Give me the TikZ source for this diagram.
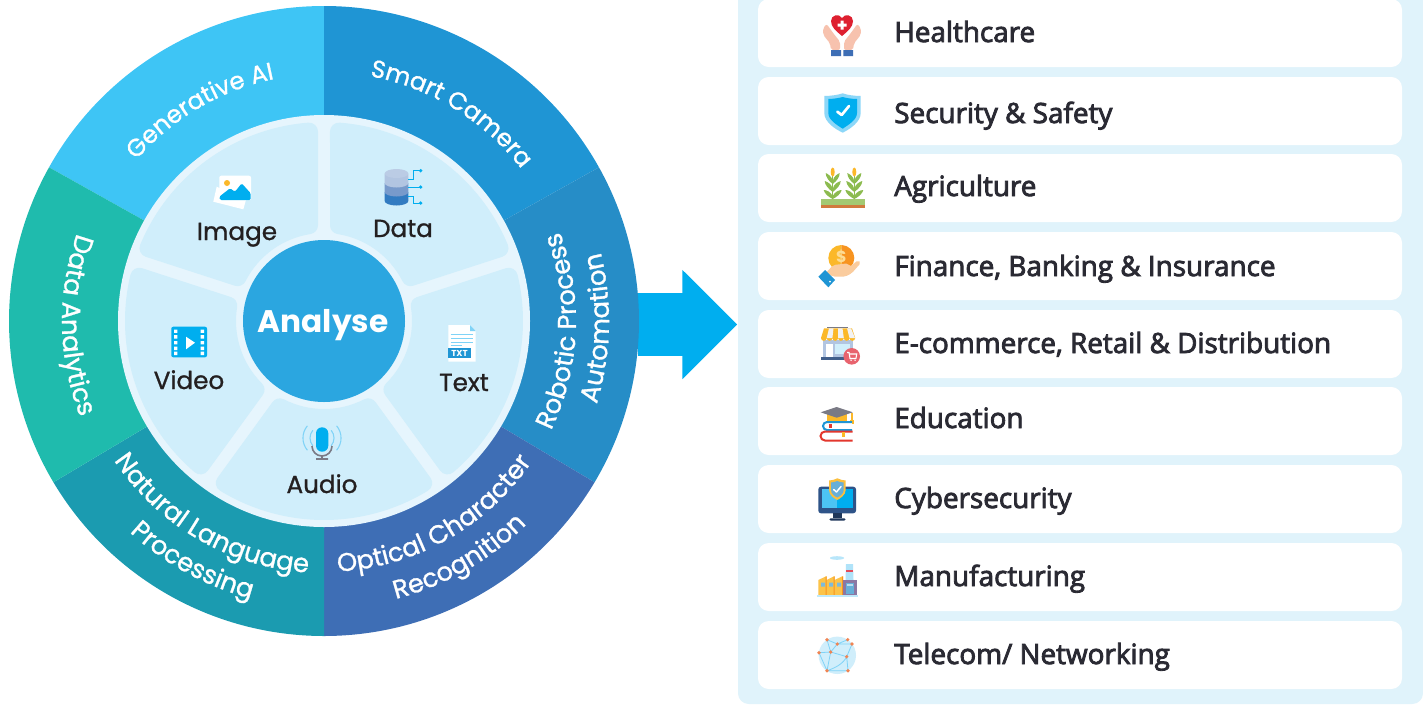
\documentclass[tikz,border=0pt]{standalone}
\usepackage{fontspec}
\setmainfont{Poppins}
\newfontfamily\cardfont{Open Sans}[FakeBold=3]
\newfontfamily\typefont{Poppins}[FakeBold=1]
\usepackage{tikz}
\usetikzlibrary{positioning,shapes.arrows,decorations.text}
\usepackage{xcolor}
\definecolor{wgenai}{RGB}{62,197,245}
\definecolor{wcamera}{RGB}{31,149,212}
\definecolor{wrpa}{RGB}{38,141,199}
\definecolor{wocr}{RGB}{62,110,181}
\definecolor{wnlp}{RGB}{27,155,176}
\definecolor{wdata}{RGB}{31,187,173}
\definecolor{diskblue}{RGB}{230,245,253}
\definecolor{petalblue}{RGB}{208,238,251}
\definecolor{hubblue}{RGB}{43,166,224}
\definecolor{panelblue}{RGB}{224,243,251}
\definecolor{arrowblue}{RGB}{0,174,239}
\definecolor{inktext}{RGB}{35,31,32}
\definecolor{cardtext}{RGB}{42,42,51}
\definecolor{iconred}{RGB}{222,32,48}
\definecolor{iconskin}{RGB}{247,194,174}
\definecolor{iconyellow}{RGB}{251,184,41}
\definecolor{iconorange}{RGB}{247,148,32}
\definecolor{icongreen}{RGB}{140,187,79}
\definecolor{icongray}{RGB}{122,122,133}
\definecolor{iconsky}{RGB}{127,211,247}
\definecolor{iconsoil}{RGB}{209,122,62}
\tikzset{itemcard/.style={rectangle, rounded corners=8pt, minimum width=483pt, minimum height=51pt, fill=white, inner sep=0pt},
  itemlabel/.style={anchor=base west, inner sep=0pt, font=\cardfont\fontsize{20.9}{24}\selectfont, text=cardtext},
  typelabel/.style={inner sep=0pt, anchor=base, font=\typefont\fontsize{18.5}{22}\selectfont, text=inktext},
  petalpart/.style={fill=petalblue, draw=petalblue, line width=13.5pt, line join=round}}
% one petal between two spokes
\newcommand{\petal}[2]{%
  \pgfmathsetmacro{\aouta}{#1-asin(15/190)}
  \pgfmathsetmacro{\aoutb}{#2+asin(15/190)}
  \pgfmathsetmacro{\aina}{#1-asin(15/97)}
  \pgfmathsetmacro{\ainb}{#2+asin(15/97)}
  \filldraw[petalpart] (\aouta:190) arc[start angle=\aouta, end angle=\aoutb, radius=190]
    -- (\ainb:97) arc[start angle=\ainb, end angle=\aina, radius=97] -- cycle;}
% one coloured part of the ring
\newcommand{\ringsector}[3]{\fill[#3] (0,0) -- (#1:315) arc[start angle=#1, end angle=#2, radius=315] -- cycle;}
% one line of text on the ring: size, start, end, radius, text
\newcommand{\ringtext}[5]{\path[decorate, decoration={text along path, text align=center,
    text={|\color{white}\typefont\fontsize{#1}{22}\selectfont|#5}}] (#2:#4) arc[start angle=#2, end angle=#3, radius=#4];}
% one leafy stalk of the crop icon
\newcommand{\cropplant}[1]{%
  \begin{scope}[shift={(#1,0)}]
    \draw[icongreen, line width=.7pt] (0,199) -- (0,176);
    \fill[icongreen] (0,181) .. controls (1,176) and (5,174) .. (7,173) .. controls (7,177) and (4,181) .. (0,184) -- cycle;
    \fill[icongreen] (0,181) .. controls (-1,176) and (-5,174) .. (-7,173) .. controls (-7,177) and (-4,181) .. (0,184) -- cycle;
    \fill[icongreen] (0,189) .. controls (1,184) and (5,182) .. (8,181) .. controls (8,185) and (4,189) .. (0,192) -- cycle;
    \fill[icongreen] (0,189) .. controls (-1,184) and (-5,182) .. (-8,181) .. controls (-8,185) and (-4,189) .. (0,192) -- cycle;
    \fill[icongreen] (0,196) .. controls (2,192) and (6,190) .. (9,190) .. controls (8,194) and (4,197) .. (0,199) -- cycle;
    \fill[icongreen] (0,196) .. controls (-2,192) and (-6,190) .. (-9,190) .. controls (-8,194) and (-4,197) .. (0,199) -- cycle;
    \fill[iconyellow] (0,172) ellipse[x radius=2, y radius=4.5];
  \end{scope}}
\begin{document}
\begin{tikzpicture}[x=.75pt, y=-.75pt]
\useasboundingbox (0,0) rectangle (1423,704);

% Panel behind the list
\fill[panelblue] (738,0) -- (1423,0) [rounded corners=8pt] -- (1423,704) -- (738,704) [sharp corners] -- cycle;

% Arrow out of the wheel
\node[single arrow, anchor=tip, fill=arrowblue, inner sep=0pt, outer sep=0pt, minimum height=74.25pt, single arrow head extend=17.6pt] (flow) at (737,324.5) {\rule{0pt}{46.5pt}};

% Wheel, angles counted as usual
\begin{scope}[shift={(324,321)}, yscale=-1]
  \ringsector{90}{150.8}{wgenai}
  \ringsector{29.2}{90}{wcamera}
  \ringsector{-30.8}{29.2}{wrpa}
  \ringsector{-90}{-30.8}{wocr}
  \ringsector{-149.2}{-90}{wnlp}
  \ringsector{150.8}{210.8}{wdata}
  \fill[diskblue] (0,0) circle[radius=206];
  \petal{162}{90}
  \petal{90}{18}
  \petal{18}{-54}
  \petal{-54}{-126}
  \petal{-126}{-198}
  % Ring texts
  \ringtext{18.3}{165.5}{75.5}{247}{Generative AI}
  \ringtext{18.3}{103.5}{13.5}{249}{Smart Camera}
  \ringtext{19.5}{141}{221}{262}{Data Analytics}
  \ringtext{19.4}{-42.5}{37.5}{252}{Robotic Process}
  \ringtext{19.5}{-41.5}{38.5}{285}{Automation}
  \ringtext{19.3}{-100.5}{-20.5}{251}{Optical Character}
  \ringtext{19.3}{-100.3}{-20.3}{287}{Recognition}
  \ringtext{19.4}{-160}{-80}{252}{Natural Language}
  \ringtext{19.3}{-158.7}{-78.7}{287}{Processing}
\end{scope}

% Centre
\node[circle, fill=hubblue, minimum size=121.5pt, inner sep=0pt] (hub) at (324,321) {};
\node[anchor=base, inner sep=0pt, font=\bfseries\fontsize{23.4}{28}\selectfont, text=white] (hublabel) at (323,332) {Analyse};

% Labels of the petals
\node[typelabel] (imagelabel) at (237,240) {Image};
\node[typelabel] (datalabel) at (403,237) {Data};
\node[typelabel] (videolabel) at (189,389) {Video};
\node[typelabel] (audiolabel) at (322,493) {Audio};
\node[typelabel] (textlabel) at (464,391) {Text};

% Image icon
\fill[white] (216.7,186.7) -- (213.3,201.7) -- (243.3,209.3) -- (246,200) -- cycle;
\fill[white, rounded corners=1.5pt] (219.3,175.7) rectangle (251,200.3);
\fill[arrowblue, rounded corners=1pt] (219.3,196.7) -- (230,188.3) -- (235,191.7) -- (241.7,183.3) -- (250.7,193.3) -- (250.7,200) -- (220,200) -- cycle;
\fill[iconyellow] (227,183) circle[radius=3];

% Data icon
\fill[wocr!80!arrowblue] (384.7,192) -- (384.7,201) arc[start angle=180, end angle=0, x radius=11.8, y radius=4.5] -- (408.3,192) -- cycle;
\fill[wocr!70!white] (384.7,183) -- (384.7,192) arc[start angle=180, end angle=0, x radius=11.8, y radius=4.5] -- (408.3,183) -- cycle;
\fill[wocr!40!white] (384.7,173.5) -- (384.7,183) arc[start angle=180, end angle=0, x radius=11.8, y radius=4.5] -- (408.3,173.5) -- cycle;
\fill[wocr!35!white] (396.5,173.5) ellipse[x radius=11.8, y radius=4.5];
\draw[arrowblue, line width=.7pt] (408.3,179.3) -- (413.3,179.3) -- (413.3,170.7) -- (420.7,170.7);
\draw[arrowblue, line width=.7pt] (408.3,187) -- (420.7,187);
\draw[arrowblue, line width=.7pt] (408.3,196.7) -- (413.3,196.7) -- (413.3,203) -- (420.7,203);
\fill[arrowblue] (420.7,170.7) circle[radius=1.8] (420.7,187) circle[radius=1.8] (420.7,203) circle[radius=1.8];

% Video icon
\fill[arrowblue, rounded corners=1.5pt] (171.3,326.7) rectangle (207,357.3);
\fill[white] (174,329.5) rectangle +(3.4,3.4) (174,335.2) rectangle +(3.4,3.4) (174,341) rectangle +(3.4,3.4) (174,346.7) rectangle +(3.4,3.4) (174,351.7) rectangle +(3.4,3.4);
\fill[white] (200.6,329.5) rectangle +(3.4,3.4) (200.6,335.2) rectangle +(3.4,3.4) (200.6,341) rectangle +(3.4,3.4) (200.6,346.7) rectangle +(3.4,3.4) (200.6,351.7) rectangle +(3.4,3.4);
\fill[white] (186,336.7) -- (195,342.7) -- (186,349.3) -- cycle;

% Audio icon
\draw[iconsky, line width=.8pt] (312.8,430.3) arc[start angle=220, end angle=140, radius=12] (307.4,425.8) arc[start angle=220, end angle=140, radius=19];
\draw[iconsky, line width=.8pt] (331.2,430.3) arc[start angle=-40, end angle=40, radius=12] (336.6,425.8) arc[start angle=-40, end angle=40, radius=19];
\fill[arrowblue, rounded corners=4.5pt] (316,427.3) rectangle (328.3,451.7);
\draw[icongray, line width=1.2pt] (312,446) arc[start angle=180, end angle=0, radius=10] (322,456) -- (322,459) (316,459) -- (328,459);

% Text icon
\fill[white] (448.3,325) -- (470,325) -- (475.7,331) -- (475.7,361.7) -- (448.3,361.7) -- cycle;
\fill[iconsky] (470,325) -- (475.7,331) -- (470,331) -- cycle;
\draw[iconsky, line width=.7pt] (450.7,334.3) -- (473,334.3) (450.7,338.3) -- (473,338.3) (450.7,342.3) -- (473,342.3) (450.7,345.5) -- (462,345.5);
\fill[wcamera] (448.3,348.3) rectangle (470.7,357.7);
\node[inner sep=0pt, text=white, font=\bfseries\fontsize{6.5}{7}\selectfont] (txtmark) at (459.5,353) {TXT};

% List on the right
\node[itemcard] (card1) at (1080,33) {};
\node[itemcard] (card2) at (1080,111) {};
\node[itemcard] (card3) at (1080,188) {};
\node[itemcard] (card4) at (1080,266) {};
\node[itemcard] (card5) at (1080,344) {};
\node[itemcard] (card6) at (1080,421) {};
\node[itemcard] (card7) at (1080,499) {};
\node[itemcard] (card8) at (1080,577) {};
\node[itemcard] (card9) at (1080,655) {};
\node[itemlabel] (item1) at (894,42) {Healthcare};
\node[itemlabel] (item2) at (894,123) {Security \& Safety};
\node[itemlabel] (item3) at (894,196) {Agriculture};
\node[itemlabel] (item4) at (894,276) {Finance, Banking \& Insurance};
\node[itemlabel] (item5) at (894,353) {E-commerce, Retail \& Distribution};
\node[itemlabel] (item6) at (894,428) {Education};
\node[itemlabel] (item7) at (894,508) {Cybersecurity};
\node[itemlabel] (item8) at (894,586) {Manufacturing};
\node[itemlabel] (item9) at (894,664) {Telecom/ Networking};

% Healthcare icon
\fill[iconskin, rounded corners=1.5pt] (823,28.3) -- (826.7,24) -- (833.3,33.3) -- (840,41.7) -- (840,50) -- (831,50) -- (830,43.3) -- (823.3,35) -- cycle;
\fill[iconskin, rounded corners=1.5pt] (861,28.3) -- (857.3,24) -- (850.7,33.3) -- (844,41.7) -- (844,50) -- (853,50) -- (854,43.3) -- (860.7,35) -- cycle;
\fill[wocr] (831,50) rectangle (841,56) (843.3,50) rectangle (853,56);
\fill[iconred] (842,36) .. controls (836,31) and (831,27) .. (831,21) .. controls (831,15) and (839,13) .. (842,18) .. controls (845,13) and (853,15) .. (853,21) .. controls (853,27) and (848,31) .. (842,36) -- cycle;
\fill[white] (840.5,20.5) rectangle (843.5,29.5) (837.5,23.5) rectangle (846.5,26.5);

% Security icon
\fill[iconsky!90!white] (824.3,96) .. controls (830,96) and (838,95) .. (842.7,93.3) .. controls (847,95) and (855,96) .. (860.7,96) -- (860.7,113) .. controls (860.7,122) and (850,129) .. (842.7,132.7) .. controls (835,129) and (824.3,122) .. (824.3,113) -- cycle;
\fill[arrowblue] (828.3,99) .. controls (833,99) and (839,98) .. (842.7,97) .. controls (846,98) and (852,99) .. (857,99) -- (857,113) .. controls (857,120) and (848,125) .. (842.7,128.7) .. controls (837,125) and (828.3,120) .. (828.3,113) -- cycle;
\draw[white, line width=2pt, line cap=round, line join=round] (837.3,111.7) -- (841.7,115) -- (849,106);

% Agriculture icon
\fill[icongreen!80!white] (821.3,199) rectangle (865,205);
\fill[iconsoil] (821.3,205) rectangle (865,208);
\cropplant{832.7}
\cropplant{854.3}

% Finance icon
\fill[iconyellow] (841.3,245) arc[start angle=270, end angle=90, radius=13] -- cycle;
\fill[iconorange] (841.3,245) arc[start angle=-90, end angle=90, radius=13] -- cycle;
\node[inner sep=0pt, text=iconyellow!50!white, font=\bfseries\fontsize{12}{12}\selectfont] (coinmark) at (841.3,257) {\$};
\fill[iconskin!70!iconyellow!80!white, rounded corners=1.5pt] (826,272.7) -- (833.3,265) -- (848.3,263.3) -- (850,266.7) -- (858.3,260) -- (861,262.7) -- (851.7,273.3) -- (845,276.7) -- (833.3,276.7) -- cycle;
\fill[wcamera] (818.3,276.7) -- (825,270) -- (835,280) -- (828.3,287.3) -- cycle;
\fill[white] (830,281.7) circle[radius=1];

% E-commerce icon
\fill[wocr!40!white] (823.3,340) rectangle (853.3,357.3);
\fill[wocr!70!black!90!white] (820.7,356.7) rectangle (854,360);
\fill[icongray] (826.7,327) rectangle (848.3,328.3);
\fill[iconyellow] (824,328.3) -- (821,338) arc[start angle=180, end angle=0, radius=2.85] arc[start angle=180, end angle=0, radius=2.85] arc[start angle=180, end angle=0, radius=2.85] arc[start angle=180, end angle=0, radius=2.85] arc[start angle=180, end angle=0, radius=2.85] arc[start angle=180, end angle=0, radius=2.85] -- (852,328.3) -- cycle;
\fill[white!90!icongray] (829,328.3) -- (826.7,338) -- (832.4,338) -- (833.5,328.3) -- cycle (838,328.3) -- (838,338) -- (843.8,338) -- (842.5,328.3) -- cycle (847,328.3) -- (849.5,338) -- (855,338) -- (851,328.3) -- cycle;
\fill[white] (825.7,344) rectangle (833.3,356.7);
\fill[petalblue] (835,344) rectangle (850,354);
\fill[iconred!70!white] (851.7,356.3) circle[radius=8.3];
\draw[white, line width=.8pt] (847,352.5) -- (849,352.5) -- (850,358.5) -- (856,358.5) (849.3,354) -- (856.7,354) -- (856,358.5);
\fill[white] (851,360.2) circle[radius=.8] (855,360.2) circle[radius=.8];

% Education icon
\fill[iconyellow] (826.7,414) rectangle (846.7,421);
\fill[icongray] (820.7,412.3) -- (836.7,407) -- (852.7,412.3) -- (836.7,417.7) -- cycle;
\draw[iconyellow, line width=.8pt] (852,413) -- (852,420);
\fill[iconyellow] (850,420) rectangle (854,424);
\fill[white] (826,422) rectangle (852,430);
\draw[wcamera, line width=1.5pt] (852,422) -- (827,422) arc[start angle=270, end angle=90, radius=4] -- (852,430);
\fill[white] (825,431.5) rectangle (852.7,440);
\draw[iconred!80!iconorange, line width=1.5pt] (852.7,431.5) -- (825,431.5) arc[start angle=270, end angle=90, radius=4.5] -- (852.7,440.5);
\fill[iconyellow] (841.5,432) rectangle (845,437);
\fill[iconred!80!iconorange] (829,424) rectangle (832,428);

% Cybersecurity icon
\fill[wocr!75!black, rounded corners=2pt] (818.3,486.7) rectangle (856,513.3);
\fill[iconsky!60!arrowblue] (821.7,489.3) rectangle (837.3,508.3);
\fill[arrowblue] (837.3,489.3) rectangle (853.3,508.3);
\fill[wocr!50!black] (833.3,513.3) rectangle (841.7,518.3);
\fill[wocr!50!black, rounded corners=1pt] (829.3,518.3) rectangle (845.7,520.6);
\fill[iconyellow!90!white] (829,480.5) .. controls (832,480.5) and (835,479.5) .. (837.3,478.3) .. controls (840,479.5) and (843,480.5) .. (845.7,480.5) -- (845.7,490) .. controls (845.7,495) and (840,498.5) .. (837.3,500) .. controls (834,498.5) and (829,495) .. (829,490) -- cycle;
\fill[wrpa!70!white] (831,482.5) .. controls (833,482.5) and (835.5,481.8) .. (837.3,481) .. controls (839,481.8) and (841.5,482.5) .. (843.7,482.5) -- (843.7,490) .. controls (843.7,494) and (839.5,496.5) .. (837.3,497.5) .. controls (835,496.5) and (831,494) .. (831,490) -- cycle;
\draw[white, line width=1.1pt, line cap=round, line join=round] (833.7,489.5) -- (836.5,492) -- (841,486.5);

% Manufacturing icon
\fill[petalblue!70!iconsky] (837,558) ellipse[x radius=7, y radius=1.8];
\fill[petalblue!60!iconsky] (846,564) -- (853,564) -- (853.5,580) -- (845.5,580) -- cycle;
\fill[iconred!80!white] (846,569.5) rectangle (853,571.5);
\fill[iconyellow!85!white] (818.3,580) -- (826.7,576) -- (826.7,595) -- (818.3,595) -- cycle (826.7,580) -- (834.5,576) -- (834.5,595) -- (826.7,595) -- cycle (834.5,580) -- (843,576) -- (843,595) -- (834.5,595) -- cycle;
\fill[iconorange] (825.5,576.5) rectangle (826.7,595) (833.5,576.5) rectangle (834.5,595) (842,576.5) rectangle (843,595);
\fill[wrpa!60!white] (821,582.5) rectangle (825,586.5) (829,582.5) rectangle (833,586.5) (837,582.5) rectangle (841,586.5);
\fill[wocr!70!iconred!80!white] (843,580) rectangle (856.7,595);
\fill[wrpa!70!white] (845.7,583) rectangle (854,594);
\fill[white!70!wrpa] (846.5,584) rectangle (853,586);
\fill[petalblue!80!iconsky] (817.3,595) rectangle (857.7,597.3);

% Telecom icon
\fill[petalblue] (837.3,655.3) circle[radius=18.7];
\draw[iconsky, line width=.6pt] (827,639.7) -- (837.3,644) -- (847.7,639.7) (837.3,644) -- (852,644) -- (846.7,656.7) -- (848,670.7) (819,652.7) -- (830.7,652) -- (837.3,644) (830.7,652) -- (846.7,656.7) (830.7,652) -- (827,670.7) (819,652.7) -- (827,670.7) .. controls (835,668) and (843,664) .. (846.7,656.7) (827,639.7) -- (830.7,652) (848,670.7) -- (827,670.7);
\fill[iconred!40!iconorange!80!white] (827,639.7) circle[radius=1.8] (837.3,644) circle[radius=1.8] (847.7,639.7) circle[radius=1.8] (852,644) circle[radius=1.8] (819,652.7) circle[radius=1.8] (830.7,652) circle[radius=1.8] (846.7,656.7) circle[radius=1.8] (827,670.7) circle[radius=1.8] (848,670.7) circle[radius=1.8];
\end{tikzpicture}
\end{document}
